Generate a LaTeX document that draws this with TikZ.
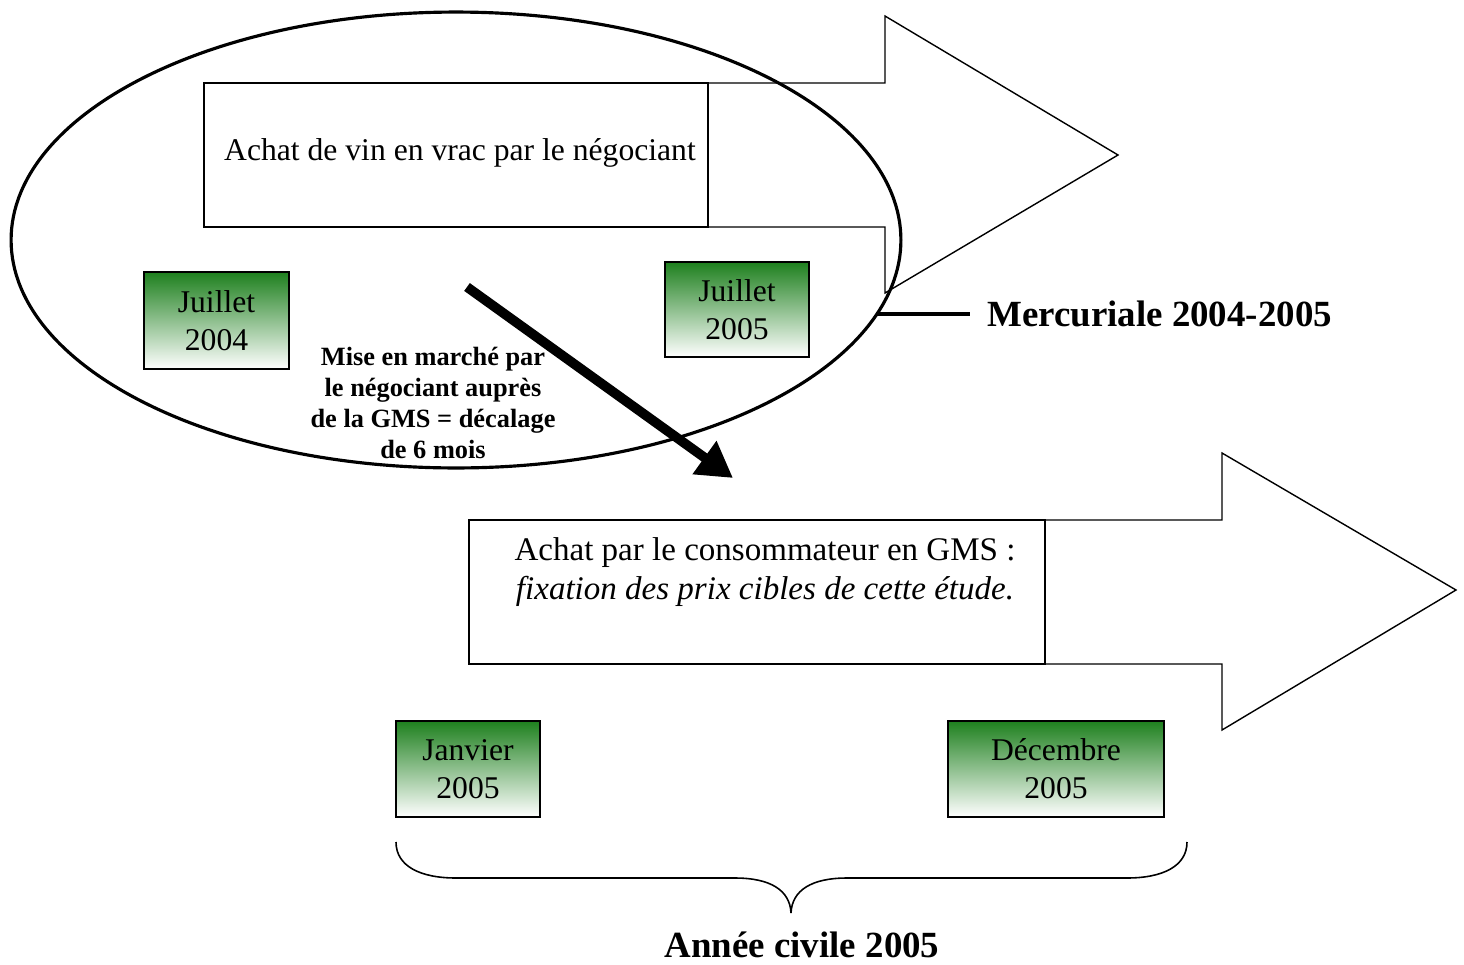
\documentclass[tikz,border=0pt]{standalone}
\usepackage{fontspec}
\setmainfont{Liberation Serif}
\usetikzlibrary{arrows.meta,shapes.geometric}
\definecolor{mgreen}{RGB}{30,128,30}
\begin{document}
\begin{tikzpicture}[x=0.02cm,y=-0.02cm,
  arrowshape/.style={draw,line width=0.8pt,fill=white,line join=miter},
  textbox/.style={draw,line width=0.8pt,fill=white,rectangle,inner sep=0pt},
  datebox/.style={draw,line width=0.9pt,rectangle,inner sep=0pt,
    top color=mgreen,bottom color=white,align=center,
    font=\fontsize{18}{21.5}\selectfont},
  boxtext/.style={align=center,inner sep=0pt,font=\fontsize{18}{22}\selectfont},
  bigbold/.style={font=\fontsize{21}{25}\selectfont\bfseries,inner sep=0pt}]
\useasboundingbox (0,0) rectangle (1464,964);

% upper block arrow and its label box
\draw[arrowshape] (204,83) -- (885,83) -- (885,16) -- (1118,155) -- (885,293)
  -- (885,227) -- (204,227) -- cycle;
\node[textbox,minimum width=10.08cm,minimum height=2.88cm] (b1) at (456,155) {};
\node[boxtext] (t1) at (460,153) {Achat de vin en vrac par le négociant};

% lower block arrow and its label box
\draw[arrowshape] (469,520) -- (1222,520) -- (1222,453) -- (1456,590) -- (1222,730)
  -- (1222,664) -- (469,664) -- cycle;
\node[textbox,minimum width=11.52cm,minimum height=2.88cm] (b2) at (757,592) {};
\node[boxtext,font=\fontsize{18.8}{22.4}\selectfont] (t2) at (765,572) {Achat par le consommateur en GMS :\\\itshape fixation des prix cibles de cette étude.};

% ellipse grouping the merchant purchase period
\node[ellipse,draw,line width=1.8pt,minimum width=17.8cm,minimum height=9.12cm,inner sep=0pt] (E) at (456,240) {};

% date boxes
\node[datebox,minimum width=2.9cm,minimum height=1.94cm] (j04) at (216.5,320.5) {Juillet\\2004};
\node[datebox,minimum width=2.88cm,minimum height=1.9cm] (j05) at (737,309.5) {Juillet\\2005};
\node[datebox,minimum width=2.88cm,minimum height=1.92cm] (jan) at (468,769) {Janvier\\2005};
\node[datebox,minimum width=4.32cm,minimum height=1.92cm] (dec) at (1056,769) {Décembre\\2005};

% shift arrow
\coordinate (s0) at (467,287);
\coordinate (s1) at (733,478);
\draw[line width=5.5pt,-{Triangle[length=20pt,width=22pt]}] (s0) -- (s1);
\node[align=center,inner sep=0pt,font=\fontsize{15}{17.6}\selectfont\bfseries] (shift) at (433,403)
  {Mise en marché par\\le négociant auprès\\de la GMS = décalage\\de 6 mois};

% label of the ellipse
\coordinate (m0) at (877,314);
\node[bigbold,anchor=west] (merc) at (987,314) {Mercuriale 2004-2005};
\draw[line width=1.9pt] (m0) -- (970,314);

% calendar year brace
\coordinate (bl) at (396,842);
\coordinate (br) at (1187,842);
\coordinate (bt) at (791,913);
\draw[line width=0.9pt] (bl) .. controls (396,866) and (420,878) .. (456,878) -- (735,878)
  .. controls (770,878) and (790,890) .. (bt)
  .. controls (792,890) and (812,878) .. (847,878) -- (1127,878)
  .. controls (1163,878) and (1187,866) .. (br);
\node[bigbold] (annee) at (802,945) {Année civile 2005};
\end{tikzpicture}
\end{document}
